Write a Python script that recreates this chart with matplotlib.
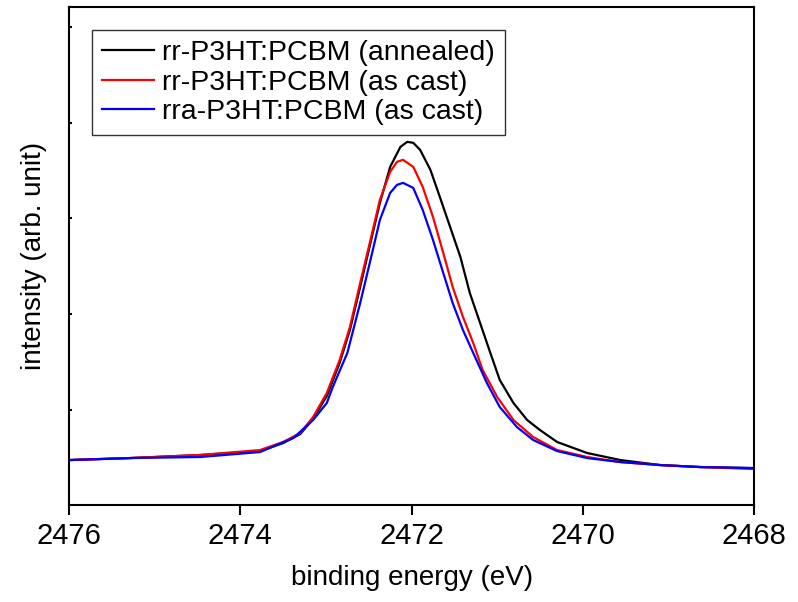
import numpy as np
import matplotlib.pyplot as plt

plt.rcParams['font.family'] = ['Liberation Sans', 'DejaVu Sans']

# binding energy (eV) / intensity
e_ann = [2476.00, 2475.29, 2474.47, 2473.77, 2473.50, 2473.30, 2473.15, 2472.99, 2472.84,
         2472.72, 2472.60, 2472.48, 2472.37, 2472.25, 2472.13, 2472.05, 2471.98, 2471.90,
         2471.78, 2471.67, 2471.55, 2471.43, 2471.32, 2471.20, 2471.08, 2470.97, 2470.81,
         2470.65, 2470.50, 2470.30, 2469.95, 2469.56, 2469.10, 2468.63, 2468.00]
i_ann = [0.471, 0.492, 0.524, 0.565, 0.649, 0.743, 0.901, 1.141, 1.487,
         1.832, 2.283, 2.743, 3.162, 3.539, 3.749, 3.801, 3.791, 3.717,
         3.508, 3.225, 2.911, 2.597, 2.220, 1.906, 1.592, 1.309, 1.068,
         0.890, 0.785, 0.660, 0.545, 0.471, 0.419, 0.398, 0.387]

e_rr = [2476.00, 2475.29, 2474.47, 2473.77, 2473.50, 2473.30, 2473.15, 2472.99, 2472.84,
        2472.72, 2472.60, 2472.48, 2472.37, 2472.25, 2472.17, 2472.10, 2471.98, 2471.87,
        2471.75, 2471.63, 2471.52, 2471.40, 2471.28, 2471.17, 2471.00, 2470.81, 2470.58,
        2470.30, 2469.95, 2469.56, 2469.10, 2468.63, 2468.00]
i_rr = [0.471, 0.492, 0.524, 0.576, 0.660, 0.754, 0.921, 1.173, 1.518,
        1.864, 2.325, 2.775, 3.194, 3.487, 3.592, 3.613, 3.539, 3.330,
        3.016, 2.639, 2.283, 1.969, 1.696, 1.414, 1.131, 0.890, 0.712,
        0.576, 0.503, 0.450, 0.419, 0.398, 0.377]

e_rra = [2476.00, 2475.29, 2474.47, 2473.77, 2473.38, 2473.15, 2472.99, 2472.92, 2472.75,
         2472.60, 2472.48, 2472.37, 2472.25, 2472.17, 2472.10, 2471.98, 2471.87, 2471.75,
         2471.63, 2471.52, 2471.40, 2471.28, 2471.12, 2470.97, 2470.77, 2470.58, 2470.30,
         2469.95, 2469.56, 2469.10, 2468.63, 2468.00]
i_rra = [0.471, 0.492, 0.503, 0.555, 0.702, 0.890, 1.068, 1.236, 1.592,
         2.115, 2.565, 2.984, 3.267, 3.351, 3.372, 3.319, 3.089, 2.775,
         2.429, 2.115, 1.832, 1.592, 1.277, 1.026, 0.817, 0.681, 0.565,
         0.492, 0.450, 0.419, 0.398, 0.387]

labels = ['rr-P3HT:PCBM (annealed)', 'rr-P3HT:PCBM (as cast)', 'rra-P3HT:PCBM (as cast)']
xticks = [2476, 2474, 2472, 2470, 2468]

fig = plt.figure(figsize=(7.98, 6.02), dpi=100)
ax = fig.add_axes([0.0865, 0.161, 0.8585, 0.827])

ax.plot(e_ann, i_ann, color='black', lw=1.6, label=labels[0])
ax.plot(e_rr, i_rr, color='red', lw=1.6, label=labels[1])
ax.plot(e_rra, i_rra, color='blue', lw=1.6, label=labels[2])

ax.set_xlim(2476, 2468)
ax.set_ylim(0, 5.21)
ax.set_xticks(xticks)
ax.set_yticks([1, 2, 3, 4, 5])
ax.set_yticklabels([])
ax.tick_params(axis='x', direction='out', length=7, width=1.5, labelsize=21, pad=5)
ax.tick_params(axis='y', direction='in', length=2, width=1.5)
for s in ax.spines.values():
    s.set_linewidth(1.5)

ax.set_xlabel('binding energy (eV)', fontsize=20, labelpad=11)
ax.set_ylabel('intensity (arb. unit)', fontsize=20, labelpad=12)

leg = ax.legend(loc='upper left', bbox_to_anchor=(0.034, 0.954), borderaxespad=0,
                fontsize=20.5, frameon=True, fancybox=False, edgecolor='black',
                handlelength=1.8, labelspacing=0.12, handletextpad=0.3,
                borderpad=0.35)
leg.get_frame().set_linewidth(1.0)

fig.savefig('out.png', dpi=100)
